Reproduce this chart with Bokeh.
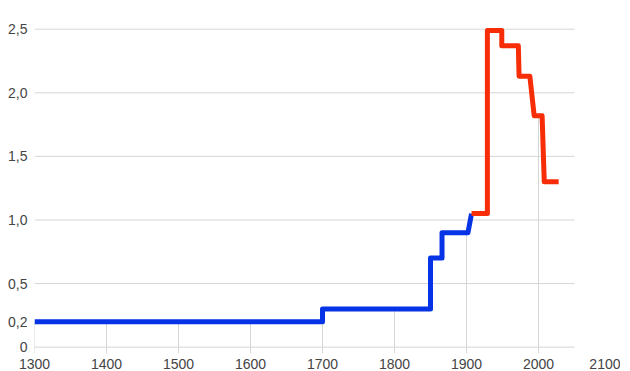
from bokeh.plotting import figure
from bokeh.models import FixedTicker, CustomJSTickFormatter, Range1d
from bokeh.embed import file_html
from bokeh.resources import INLINE

# ---- data ----
blue_years = [1300, 1700, 1700, 1850, 1850, 1866, 1866, 1902, 1907]
blue_vals = [0.2, 0.2, 0.3, 0.3, 0.7, 0.7, 0.9, 0.9, 1.05]
red_years = [1907, 1929, 1929, 1949, 1949, 1972, 1973, 1988, 1994, 2005, 2008, 2028]
red_vals = [1.05, 1.05, 2.49, 2.49, 2.37, 2.37, 2.13, 2.13, 1.82, 1.82, 1.30, 1.30]

x_tick_labels = [1300, 1400, 1500, 1600, 1700, 1800, 1900, 2000, 2100]
drop_years = [1300, 1400, 1500, 1600, 1700, 1800, 1900, 2000]
y_ticks = [0, 0.2, 0.5, 1.0, 1.5, 2.0, 2.5]
grid_vals = [0, 0.5, 1.0, 1.5, 2.0, 2.5]
grid_x_end = 2050

BLUE = "#0633e6"
RED = "#f72d08"
GRID = "#d6d6d6"
TEXT = "#444444"
FONT = "Liberation Sans"

y_floor = -0.05

p = figure(frame_width=576, frame_height=337, output_backend="svg",
           toolbar_location=None, x_range=Range1d(1300, 2100),
           y_range=Range1d(y_floor, 2.6),
           min_border_left=34, min_border_top=16, min_border_right=10,
           min_border_bottom=0)
p.outline_line_color = None
p.background_fill_color = "white"
p.xgrid.visible = False
p.ygrid.visible = False

# horizontal gridlines (limited span)
p.segment(x0=[x_tick_labels[0]] * len(grid_vals), y0=grid_vals,
          x1=[grid_x_end] * len(grid_vals), y1=grid_vals,
          line_color=GRID, line_width=1)

# vertical drop lines up to the step value
all_x = blue_years + red_years
all_y = blue_vals + red_vals
def step_value(t):
    v = all_y[0]
    for xx, yy in zip(all_x, all_y):
        if xx <= t:
            v = yy
    return v
drop_tops = [step_value(t) for t in drop_years]
p.segment(x0=drop_years, y0=[y_floor] * len(drop_years), x1=drop_years,
          y1=drop_tops, line_color=GRID, line_width=1)

p.line(blue_years, blue_vals, line_color=BLUE, line_width=5, line_join="round")
p.line(red_years, red_vals, line_color=RED, line_width=5, line_join="round")

# axes
xa = p.xaxis[0]
xa.ticker = FixedTicker(ticks=x_tick_labels)
xa.axis_line_color = None
xa.major_tick_line_color = None
xa.major_tick_out = 0
xa.major_tick_in = 0
xa.minor_tick_line_color = None
xa.major_label_text_font = FONT
xa.major_label_text_font_size = "14px"
xa.major_label_text_color = TEXT
xa.major_label_standoff = 5

ya = p.yaxis[0]
ya.ticker = FixedTicker(ticks=y_ticks)
ya.formatter = CustomJSTickFormatter(code="""
if (tick == 0) return '0';
return tick.toFixed(1).replace('.', ',');
""")
ya.axis_line_color = None
ya.major_tick_line_color = None
ya.major_tick_out = 0
ya.major_tick_in = 0
ya.minor_tick_line_color = None
ya.major_label_text_font = FONT
ya.major_label_text_font_size = "14px"
ya.major_label_text_color = TEXT
ya.major_label_standoff = 7

open("out.html", "w").write(file_html(p, INLINE))
